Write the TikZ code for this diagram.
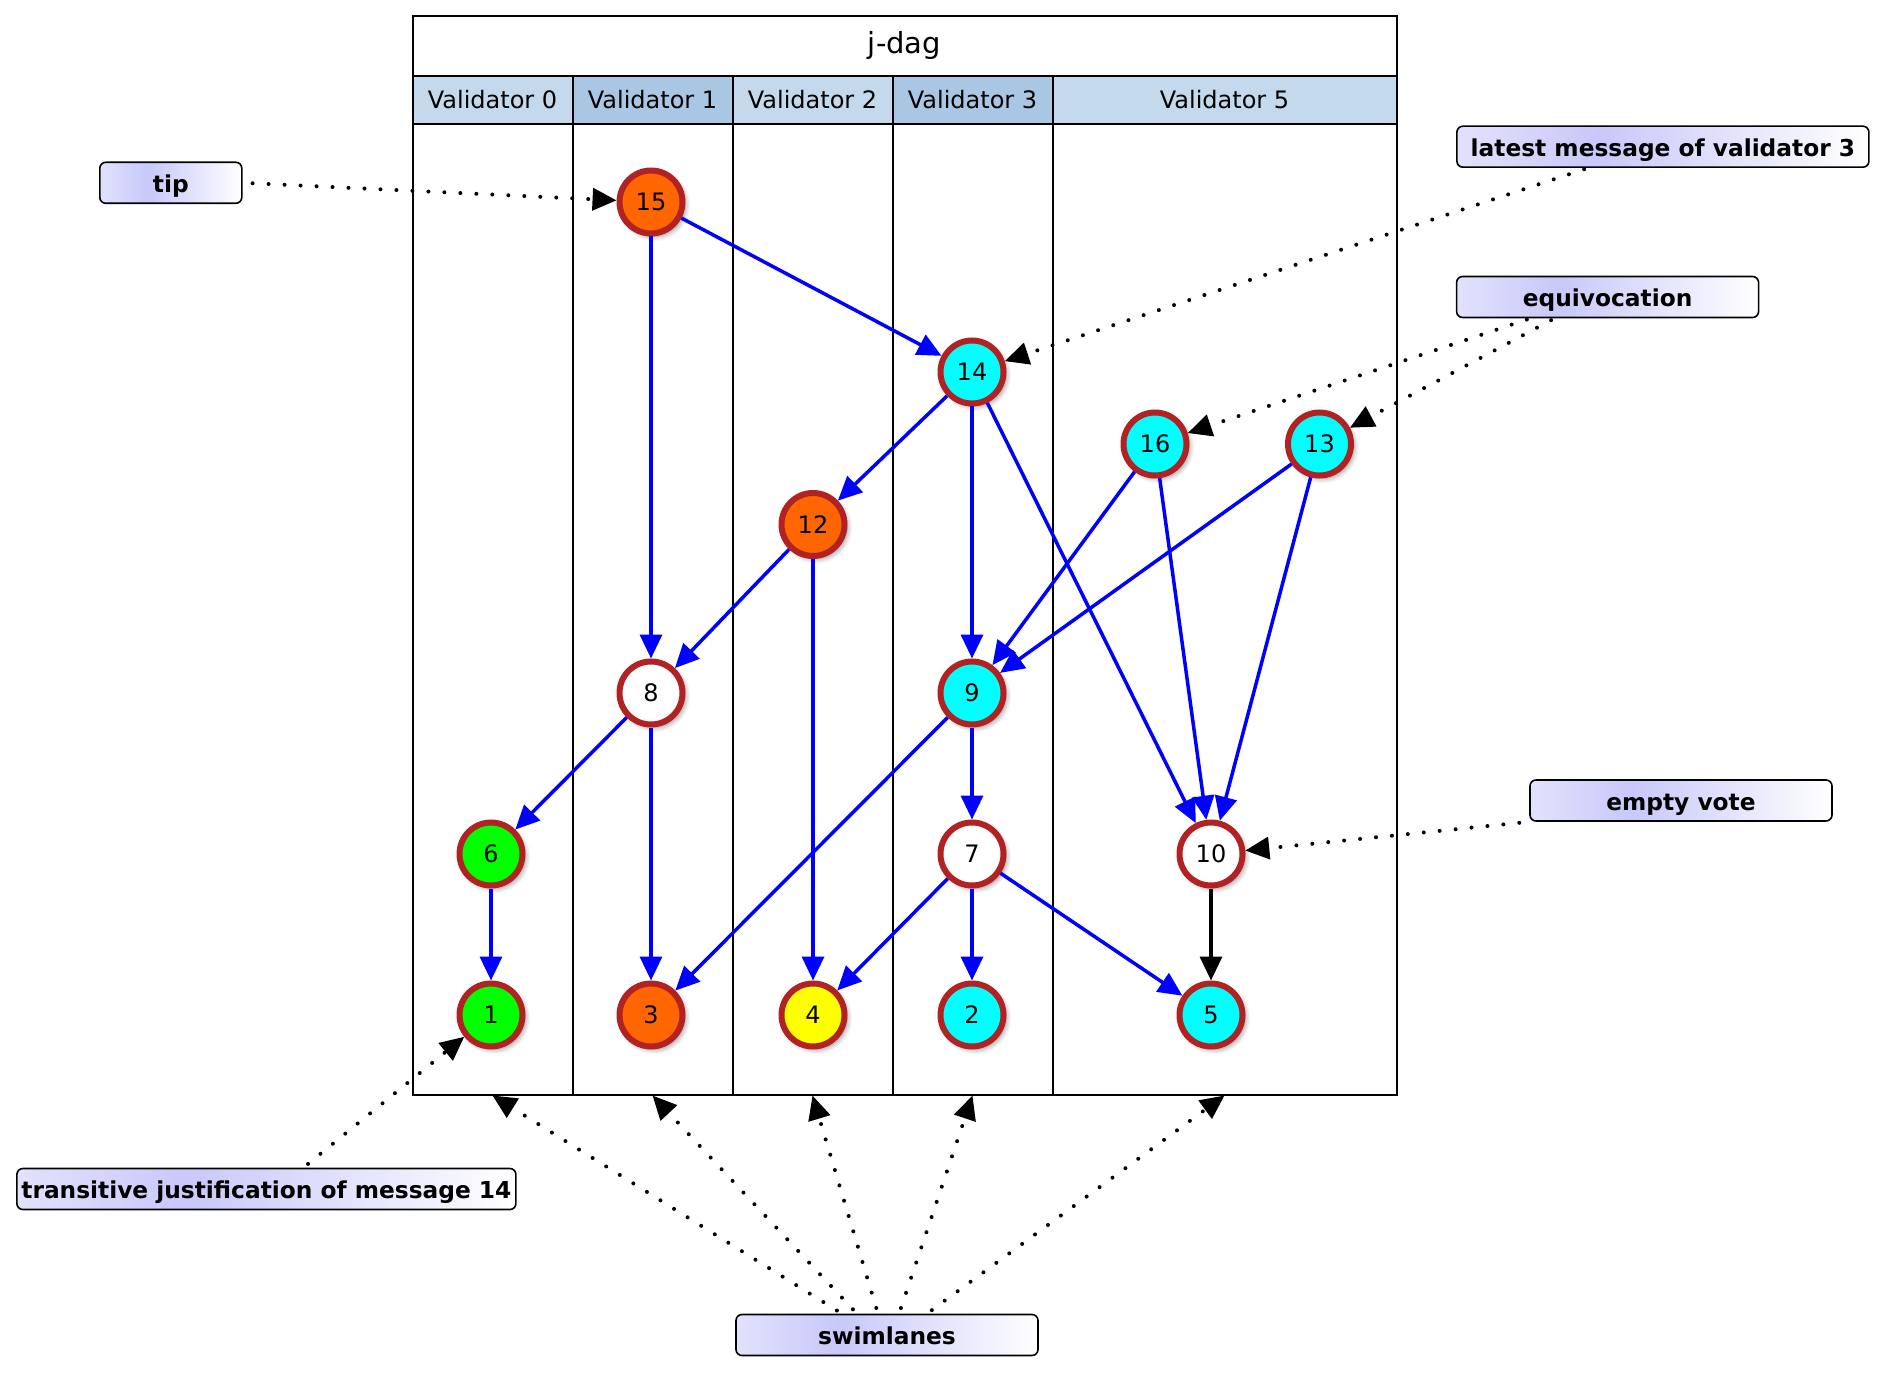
\documentclass[tikz,border=0pt]{standalone}
\usepackage{fontspec}
\setmainfont{DejaVu Sans}
\usetikzlibrary{arrows.meta,calc,shadows.blur}
\definecolor{firebrick}{HTML}{B22222}
\definecolor{vorange}{HTML}{FF6600}
\definecolor{vcyan}{HTML}{00FFFF}
\definecolor{vgreen}{HTML}{00FF00}
\definecolor{vyellow}{HTML}{FFFF00}
\definecolor{hlight}{HTML}{C5D9ED}
\definecolor{hdark}{HTML}{A9C7E3}
\definecolor{lavlight}{HTML}{E2E2FC}
\definecolor{lavmid}{HTML}{C8C8FA}
\pgfdeclarehorizontalshading{callout}{100bp}{color(0bp)=(lavlight); color(25bp)=(lavlight); color(42bp)=(lavmid); color(75bp)=(white); color(100bp)=(white)}

\begin{document}
\begin{tikzpicture}[x=0.5pt,y=0.5pt]
    \tikzstyle{every node}+=[inner sep=0pt, font=\fontsize{12}{14}\selectfont]
    \tikzstyle{msg}=[circle, draw=firebrick, line width=3pt, minimum size=31.5pt, blur shadow={shadow xshift=1.5pt, shadow yshift=-1.5pt, shadow blur radius=2.5pt, shadow opacity=45}]
    \tikzstyle{head}=[draw=black, line width=1pt, minimum height=24pt]
    \tikzstyle{lane}=[draw=black, line width=1pt, minimum height=485.3pt]
    \tikzstyle{callout}=[draw=black, line width=0.8pt, rounded corners=3pt, shade, shading=callout, minimum height=20.5pt, text height=10pt, text depth=0.3pt, font=\fontsize{11.65}{14}\selectfont\bfseries]
    \tikzstyle{justif}=[draw=blue, line width=1.75pt, -{Triangle[length=12pt,width=11pt]}]
    \tikzstyle{note}=[draw=black, line width=2pt, line cap=round, dash pattern=on 0pt off 8pt, -{Triangle[length=12pt,width=11pt]}]
    \useasboundingbox (0,0) rectangle (1886,-1374);
    \draw (904.5,-45.7) node [head, minimum width=492pt, minimum height=30.1pt, font=\fontsize{14.5}{16}\selectfont] (title) {j-dag};
    \draw (492.5,-99.9) node [head, fill=hlight, minimum width=80pt] (h0) {Validator 0};
    \draw (652.5,-99.9) node [head, fill=hdark, minimum width=80pt] (h1) {Validator 1};
    \draw (812.5,-99.9) node [head, fill=hlight, minimum width=80pt] (h2) {Validator 2};
    \draw (972.5,-99.9) node [head, fill=hdark, minimum width=80pt] (h3) {Validator 3};
    \draw (1224.5,-99.9) node [head, fill=hlight, minimum width=172pt] (h5) {Validator 5};
    \draw (492.5,-609.2) node [lane, minimum width=80pt] (lane0) {};
    \draw (652.5,-609.2) node [lane, minimum width=80pt] (lane1) {};
    \draw (812.5,-609.2) node [lane, minimum width=80pt] (lane2) {};
    \draw (972.5,-609.2) node [lane, minimum width=80pt] (lane3) {};
    \draw (1224.5,-609.2) node [lane, minimum width=172pt] (lane5) {};
    \draw (651,-202) node [msg, fill=vorange] (m15) {15};
    \draw (972,-372) node [msg, fill=vcyan] (m14) {14};
    \draw (1155,-444) node [msg, fill=vcyan] (m16) {16};
    \draw (1319.5,-444) node [msg, fill=vcyan] (m13) {13};
    \draw (813,-524.5) node [msg, fill=vorange] (m12) {12};
    \draw (651,-693) node [msg, fill=white] (m8) {8};
    \draw (972,-693) node [msg, fill=vcyan] (m9) {9};
    \draw (491,-854) node [msg, fill=vgreen] (m6) {6};
    \draw (972,-854) node [msg, fill=white] (m7) {7};
    \draw (1211,-854) node [msg, fill=white] (m10) {10};
    \draw (491,-1015) node [msg, fill=vgreen] (m1) {1};
    \draw (651,-1015) node [msg, fill=vorange] (m3) {3};
    \draw (813,-1015) node [msg, fill=vyellow] (m4) {4};
    \draw (972,-1015) node [msg, fill=vcyan] (m2) {2};
    \draw (1211,-1015) node [msg, fill=vcyan] (m5) {5};
    \draw [justif] (m15) -- (m14);
    \draw [justif] (m15) -- (m8);
    \draw [justif] (m14) -- (m12);
    \draw [justif] (m14) -- (m9);
    \draw [justif] (m14) -- (m10);
    \draw [justif] (m16) -- (m9);
    \draw [justif] (m16) -- (m10);
    \draw [justif] (m13) -- (m9);
    \draw [justif] (m13) -- (m10);
    \draw [justif] (m12) -- (m8);
    \draw [justif] (m12) -- (m4);
    \draw [justif] (m8) -- (m6);
    \draw [justif] (m8) -- (m3);
    \draw [justif] (m9) -- (m7);
    \draw [justif] (m9) -- (m3);
    \draw [justif] (m6) -- (m1);
    \draw [justif] (m7) -- (m4);
    \draw [justif] (m7) -- (m2);
    \draw [justif] (m7) -- (m5);
    \draw [justif, draw=black] (m10) -- (m5);
    \draw (170.8,-182.8) node [callout, minimum width=71pt] (tip) {tip};
    \draw (1662.9,-146.7) node [callout, minimum width=206pt] (latest) {latest message of validator 3};
    \draw (1607.6,-297) node [callout, minimum width=151pt] (equiv) {equivocation};
    \draw (1681,-800.5) node [callout, minimum width=151pt] (empty) {empty vote};
    \draw (266.4,-1189) node [callout, minimum width=249.5pt] (trans) {transitive justification of message 14};
    \draw (887,-1335) node [callout, minimum width=151pt] (swim) {swimlanes};
    \draw [note, shorten <=5pt] (tip.east) -- (m15);
    \draw [note, shorten <=2pt] ($(latest.south)+(-75,0)$) -- (m14);
    \draw [note, shorten <=2pt] ($(equiv.south)+(-77,0)$) -- (m16);
    \draw [note, shorten <=2pt] ($(equiv.south)+(-53,0)$) -- (m13);
    \draw [note, shorten <=5pt] (empty.south west) -- (m10);
    \draw [note, shorten <=3pt] ($(trans.north)+(37,0)$) -- (m1);
    \draw [note, shorten <=3pt] ($(swim.north)+(-45,0)$) -- (lane0.south);
    \draw [note, shorten <=3pt] ($(swim.north)+(-30,0)$) -- (lane1.south);
    \draw [note, shorten <=3pt] ($(swim.north)+(-9,0)$) -- (lane2.south);
    \draw [note, shorten <=3pt] ($(swim.north)+(12,0)$) -- (lane3.south);
    \draw [note, shorten <=3pt] ($(swim.north)+(40,0)$) -- (lane5.south);
\end{tikzpicture}
\end{document}
